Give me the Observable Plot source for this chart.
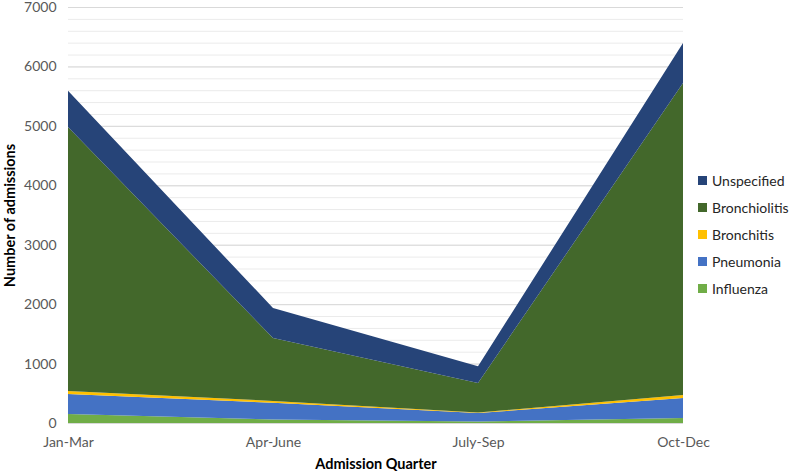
<!DOCTYPE html>
<html>
<head>
<meta charset="utf-8">
<script src="https://cdn.jsdelivr.net/npm/d3@7"></script>
<script src="https://cdn.jsdelivr.net/npm/@observablehq/plot@0.6"></script>
<style>
  body { margin: 0; background: #fff; }
  #chart { position: relative; width: 789px; height: 474px; font-family: Lato, sans-serif; }
  #legend { position: absolute; left: 698px; top: 167px; font-size: 14px; color: #262626; }
  .item { display: flex; align-items: center; height: 27px; }
  .sw { width: 9px; height: 9px; margin-right: 5px; }
  g[aria-label="y-axis label"] text,
  g[aria-label="x-axis label"] text { font-weight: bold; font-size: 14.5px; fill: #000; }
</style>
</head>
<body>
<div id="chart"><div id="legend"></div></div>
<script>
// Quarterly admissions by diagnosis (stacked, bottom to top)
const quarters = ["Jan-Mar", "Apr-June", "July-Sep", "Oct-Dec"];
const influenza = [150, 60, 25, 85];
const pneumonia = [340, 280, 143, 335];
const bronchitis = [50, 32, 10, 50];
const bronchiolitis = [4440, 1058, 495, 5250];
const unspecified = [610, 505, 282, 675];

const seriesNames = ["Influenza", "Pneumonia", "Bronchitis", "Bronchiolitis", "Unspecified"];
const seriesColors = ["#70AD47", "#4472C4", "#FFC000", "#43682B", "#264478"];
const yTicks = [0, 1000, 2000, 3000, 4000, 5000, 6000, 7000];
const minorTicks = d3.range(0, 7001, 200);

const seriesValues = [influenza, pneumonia, bronchitis, bronchiolitis, unspecified];
const rows = [];
seriesNames.forEach((name, i) => {
  quarters.forEach((q, j) => rows.push({ series: name, quarter: q, value: seriesValues[i][j] }));
});

const chart = Plot.plot({
  width: 789,
  height: 474,
  marginLeft: 68,
  marginRight: 106,
  marginTop: 7,
  marginBottom: 51,
  style: { fontFamily: "Lato, sans-serif", fontSize: "14px", color: "#595959", background: "#fff" },
  x: { type: "point", domain: quarters, padding: 0 },
  y: { domain: [0, 7000] },
  color: { domain: seriesNames, range: seriesColors },
  marks: [
    Plot.ruleY(minorTicks, { stroke: "#ebebeb" }),
    Plot.ruleY(yTicks, { stroke: "#d9d9d9" }),
    Plot.areaY(rows, { x: "quarter", y: "value", fill: "series", order: seriesNames, curve: "linear" }),
    Plot.axisX({ tickSize: 0, tickPadding: 14, fontSize: 14, label: "Admission Quarter", labelAnchor: "center", labelOffset: 45, labelArrow: "none" }),
    Plot.axisY(yTicks, { tickSize: 0, tickPadding: 12, fontSize: 14, tickFormat: d => String(d), label: "Number of admissions", labelAnchor: "center", labelOffset: 64, labelArrow: "none" })
  ]
});
document.getElementById("chart").prepend(chart);

// Legend, top to bottom in reverse stacking order
const legend = d3.select("#legend");
seriesNames.slice().reverse().forEach(name => {
  const item = legend.append("div").attr("class", "item");
  item.append("div").attr("class", "sw").style("background", seriesColors[seriesNames.indexOf(name)]);
  item.append("span").text(name);
});
</script>
</body>
</html>
